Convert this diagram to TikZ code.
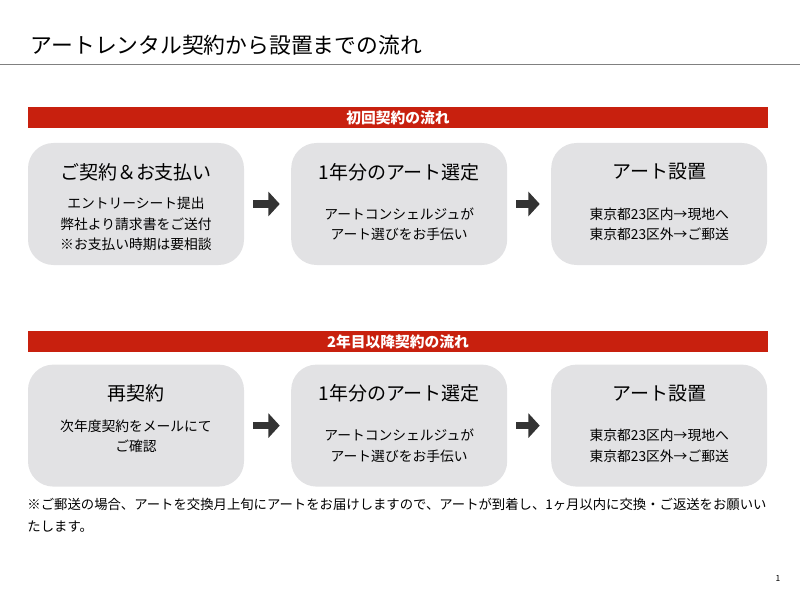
\documentclass[tikz,border=0pt]{standalone}
\usepackage{fontspec}
\setmainfont{Noto Sans CJK JP}
\usetikzlibrary{arrows.meta,positioning}
\definecolor{barred}{HTML}{C8200E}
\definecolor{boxgray}{HTML}{E2E2E4}
\definecolor{arrowdark}{HTML}{333333}
\tikzset{
    >=Triangle,
    step box/.style={rounded corners=18pt,fill=boxgray,minimum width=5.4cm,minimum height=3.05cm},
    head bar/.style={fill=barred,minimum width=18.5cm,minimum height=0.53cm,inner sep=0pt,text=white,font=\fontsize{10.5pt}{12pt}\bfseries},
    box title/.style={font=\fontsize{13.5pt}{16pt}\selectfont},
    box text/.style={align=center,font=\fontsize{9.8pt}{14.5pt}\selectfont},
    flow arrow/.style={->,line width=5pt,draw=arrowdark,shorten <=0.22cm,shorten >=0.28cm,
        arrows={-Triangle[length=8pt,width=17pt]}}
}
\begin{document}
\begin{tikzpicture}
    \useasboundingbox (0,0) rectangle (20,15);
    % title
    \node[anchor=west,font=\fontsize{15.5pt}{18pt}\selectfont] (title) at (0.65,13.88) {アートレンタル契約から設置までの流れ};
    \draw[gray,line width=0.6pt] (0,13.38) -- (20,13.38);
    % first contract
    \node[head bar] (bar1) at (9.95,12.06) {初回契約の流れ};
    \node[step box] (b1) at (3.4,9.9) {};
    \node[step box] (b2) at (9.98,9.9) {};
    \node[step box] (b3) at (16.48,9.9) {};
    \node[box title] (t1) at (3.4,10.7) {ご契約＆お支払い};
    \node[box text] (x1) at (3.4,9.4) {エントリーシート提出\\弊社より請求書をご送付\\※お支払い時期は要相談};
    \node[box title] (t2) at (9.98,10.7) {1年分のアート選定};
    \node[box text] (x2) at (9.98,9.4) {アートコンシェルジュが\\アート選びをお手伝い};
    \node[box title] (t3) at (16.48,10.7) {アート設置};
    \node[box text] (x3) at (16.48,9.4) {東京都23区内→現地へ\\東京都23区外→ご郵送};
    \draw[flow arrow] (b1) -- (b2);
    \draw[flow arrow] (b2) -- (b3);
    % second year
    \node[head bar] (bar2) at (9.95,6.46) {2年目以降契約の流れ};
    \node[step box] (c1) at (3.4,4.36) {};
    \node[step box] (c2) at (9.98,4.36) {};
    \node[step box] (c3) at (16.48,4.36) {};
    \node[box title] (u1) at (3.4,5.16) {再契約};
    \node[box text] (y1) at (3.4,4.1) {次年度契約をメールにて\\ご確認};
    \node[box title] (u2) at (9.98,5.16) {1年分のアート選定};
    \node[box text] (y2) at (9.98,3.86) {アートコンシェルジュが\\アート選びをお手伝い};
    \node[box title] (u3) at (16.48,5.16) {アート設置};
    \node[box text] (y3) at (16.48,3.86) {東京都23区内→現地へ\\東京都23区外→ご郵送};
    \draw[flow arrow] (c1) -- (c2);
    \draw[flow arrow] (c2) -- (c3);
    % note
    \node[anchor=north west,align=left,inner sep=0pt,
        font=\fontsize{9.5pt}{15.5pt}\selectfont] (note) at (0.68,2.55)
        {※ご郵送の場合、アートを交換月上旬にアートをお届けしますので、アートが到着し、1ヶ月以内に交換・ご返送をお願いい\\たします。};
    \node[font=\fontsize{6pt}{7pt}\selectfont] (page) at (19.45,0.55) {1};
\end{tikzpicture}
\end{document}
